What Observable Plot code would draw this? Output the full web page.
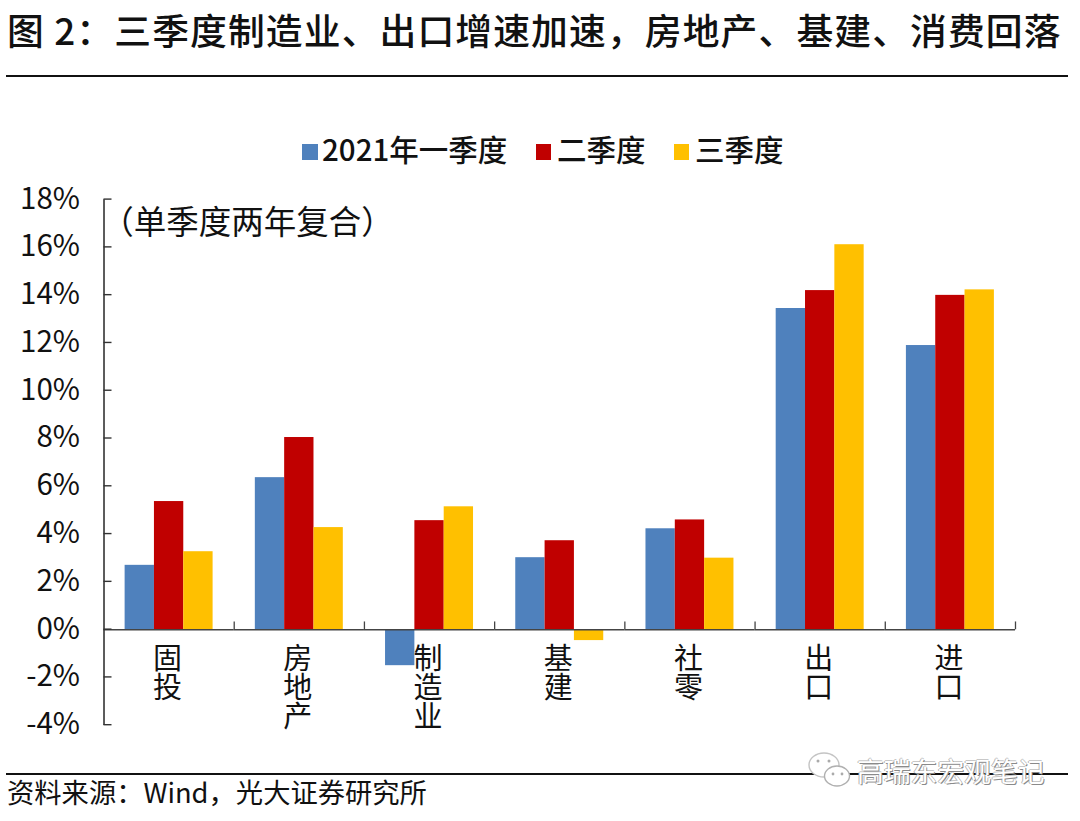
<!DOCTYPE html>
<html lang="zh-CN">
<head>
<meta charset="utf-8">
<script src="https://cdn.jsdelivr.net/npm/d3@7"></script>
<script src="https://cdn.jsdelivr.net/npm/@observablehq/plot@0.6"></script>
<style>
  html,body{margin:0;padding:0;background:#fff;width:1080px;height:821px;overflow:hidden;}
  body{font-family:"Noto Sans CJK SC","Noto Sans",sans-serif;color:#111;position:relative;}
  #head{position:relative;height:170px;}
  #title{position:absolute;left:7px;top:3px;font-size:36.8px;line-height:52px;font-weight:500;white-space:nowrap;letter-spacing:1.1px;}
  .hr{position:absolute;left:6px;width:1062px;height:2px;background:#111;}
  #legend{position:absolute;left:0;top:126px;height:44px;width:1080px;font-size:29.5px;font-weight:500;line-height:44px;}
  #legend span{position:absolute;white-space:nowrap;}
  #legend i{position:absolute;top:18px;display:block;height:16px;}
  #chart{height:600px;}
  #chart svg{display:block;}
  #foot{position:relative;height:51px;}
  #source{position:absolute;left:7px;top:2px;font-size:27.3px;line-height:38px;white-space:nowrap;}
  #mark{position:absolute;left:806px;top:-21px;height:44px;width:250px;}
  #mark b{position:absolute;left:51px;top:0;font-weight:400;font-size:26.8px;line-height:44px;color:#fff;white-space:nowrap;
    text-shadow:1px 1px 0 #8a8a8a,-1px 0 0 #b5b5b5,0 -1px 0 #c8c8c8;}
  #mark svg{position:absolute;left:0;top:2px;}
</style>
</head>
<body>
<div id="head">
  <div id="title">图 2：三季度制造业、出口增速加速，房地产、基建、消费回落</div>
  <div class="hr" style="top:75px"></div>
  <div id="legend"></div>
</div>
<div id="chart"></div>
<div id="foot">
  <div class="hr" style="top:3px"></div>
  <div id="source">资料来源：Wind，光大证券研究所</div>
  <div id="mark">
    <svg width="48" height="40" viewBox="0 0 48 40">
      <ellipse cx="18" cy="14" rx="15" ry="12" fill="#fff" stroke="#c4c4c4" stroke-width="1.4"/>
      <ellipse cx="31" cy="25" rx="12.5" ry="10" fill="#fff" stroke="#b0b0b0" stroke-width="1.4"/>
      <circle cx="12" cy="10" r="1.5" fill="#aaa"/><circle cx="23" cy="10" r="1.5" fill="#aaa"/>
      <circle cx="27" cy="23" r="1.4" fill="#aaa"/><circle cx="36" cy="23" r="1.4" fill="#aaa"/>
    </svg>
    <b>高瑞东宏观笔记</b>
  </div>
</div>
<script>
const categories = ["固投", "房地产", "制造业", "基建", "社零", "出口", "进口"];
const quarters = ["2021年一季度", "二季度", "三季度"];
const q1Values = [2.7, 6.37, -1.5, 3.02, 4.23, 13.45, 11.9];
const q2Values = [5.37, 8.05, 4.57, 3.73, 4.6, 14.2, 14.0];
const q3Values = [3.27, 4.28, 5.15, -0.45, 3.0, 16.12, 14.23];
const yTicks = [-4, -2, 0, 2, 4, 6, 8, 10, 12, 14, 16, 18];
const colors = ["#4F81BD", "#C00000", "#FFC000"];
const note = "（单季度两年复合）";

const seriesValues = [q1Values, q2Values, q3Values];
const rows = quarters.flatMap((q, s) =>
  categories.map((c, i) => ({category: c, quarter: q, value: seriesValues[s][i]}))
);

// legend (HTML, above the SVG)
const legendLayout = [
  {sw: 302, w: 16, tx: 322},
  {sw: 536, w: 15, tx: 557},
  {sw: 674, w: 15, tx: 695}
];
const legend = document.getElementById("legend");
quarters.forEach((q, i) => {
  const sw = document.createElement("i");
  sw.style.left = legendLayout[i].sw + "px";
  sw.style.width = legendLayout[i].w + "px";
  sw.style.background = colors[i];
  const t = document.createElement("span");
  t.style.left = legendLayout[i].tx + "px";
  t.textContent = q;
  legend.append(sw, t);
});

const font = '"Noto Sans CJK SC","Noto Sans",sans-serif';
const barW = 130.2 / (3 + 2 * 0.72);
const halfBand = 65.1;

const plot = Plot.plot({
  width: 1080,
  height: 600,
  marginTop: 29.3,
  marginBottom: 45.1,
  marginLeft: 103.5,
  marginRight: 65,
  style: {fontFamily: font, background: "#fff", color: "#111", overflow: "visible"},
  fx: {domain: categories, padding: 0, round: false, axis: null},
  x: {domain: quarters, paddingInner: 0, paddingOuter: 0.72, round: false, axis: null},
  y: {domain: [-4, 18], axis: null},
  color: {domain: quarters, range: colors},
  marks: [
    Plot.barY(rows, {fx: "category", x: "quarter", y: "value", fill: "quarter"}),
    Plot.ruleY([0], {stroke: "#444", strokeWidth: 1.5}),
    // upward tick at the right edge of each category band
    Plot.ruleX(categories, {
      fx: d => d, x: () => quarters[2], y1: 0, y2: 0.33,
      dx: halfBand - barW, stroke: "#444", strokeWidth: 1.3
    }),
    // vertical axis line, in the first band
    Plot.ruleX([categories[0]], {
      fx: d => d, x: () => quarters[1], y1: -4, y2: 18,
      dx: -halfBand, stroke: "#333", strokeWidth: 1.6
    }),
    Plot.axisY({
      anchor: "left", ticks: yTicks, tickFormat: d => d + "%",
      tickSize: -8, tickPadding: 32, stroke: "#333", strokeWidth: 1.4,
      fontSize: 29.5, label: null, fill: "#111", dy: -0.7
    }),
    // category labels, written top to bottom
    Plot.text(categories, {
      fx: d => d, x: () => quarters[1], y: () => 0,
      text: d => Array.from(d).join("\n"),
      lineAnchor: "top", lineHeight: 1, dx: -1.5, dy: 19, fontSize: 29, fill: "#111"
    }),
    Plot.text([note], {
      fx: () => categories[0], x: () => quarters[0], y: () => 17.0,
      text: d => d, textAnchor: "start", dx: -38.5, fontSize: 32.5, fill: "#111"
    })
  ]
});
document.getElementById("chart").append(plot);
</script>
</body>
</html>
